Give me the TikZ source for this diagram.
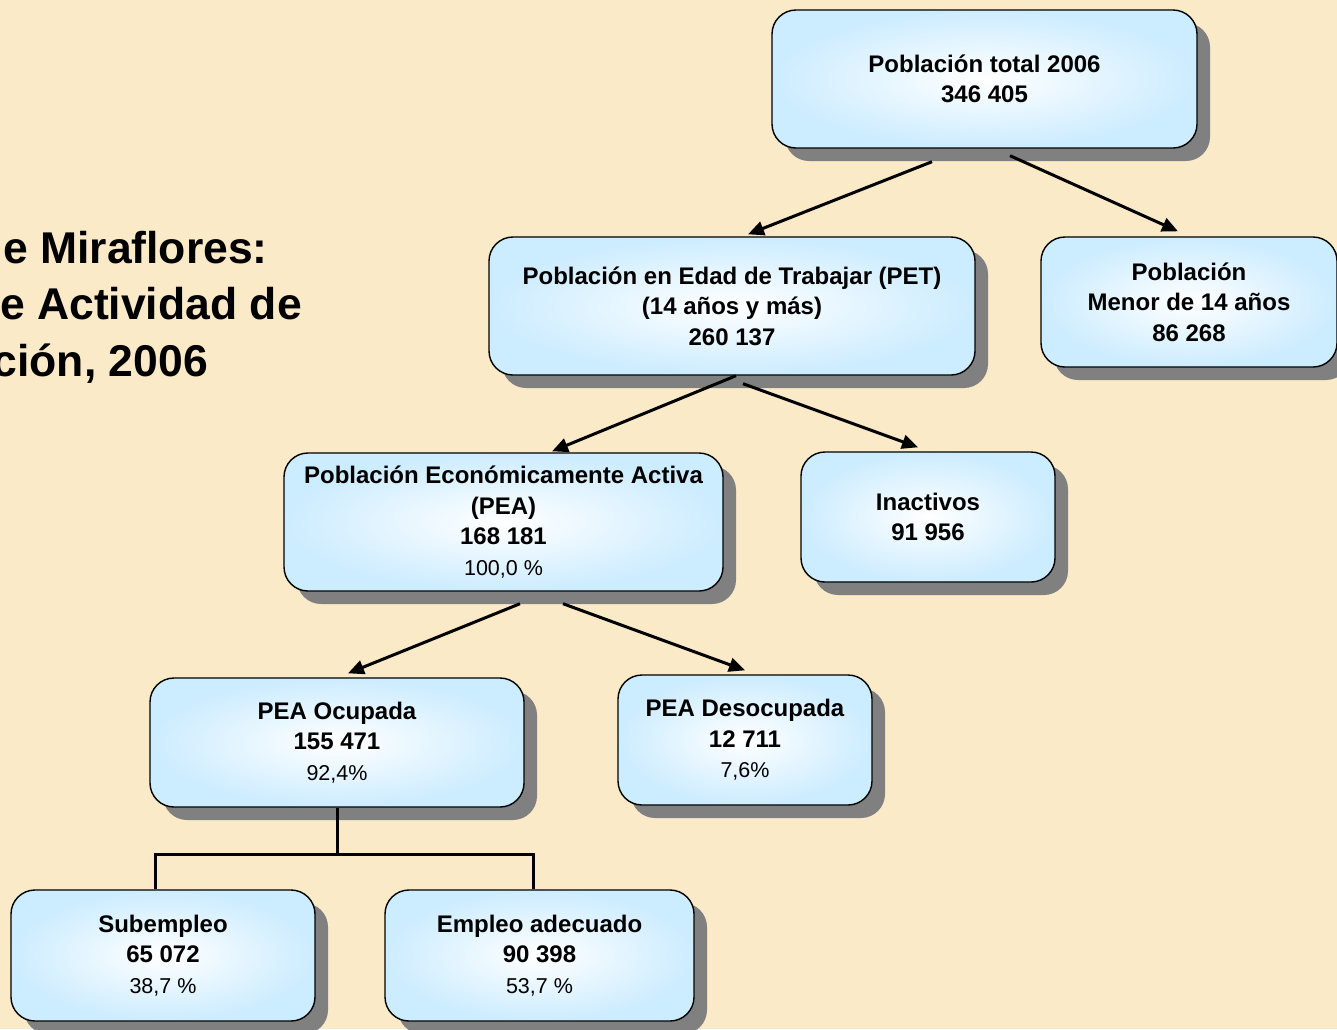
\documentclass[tikz,border=0pt]{standalone}
\usepackage{fontspec}
\setmainfont{Liberation Sans}
\usetikzlibrary{arrows.meta,shadows}
\definecolor{fondo}{RGB}{250,234,199}
\definecolor{celeste}{RGB}{204,236,255}
\newcommand{\pct}[1]{{\fontsize{21.5}{30.5}\selectfont\mdseries #1}}

\begin{document}
\begin{tikzpicture}[x=1pt,y=-1pt]
\tikzset{caja/.style={draw=black,line width=1.4pt,rounded corners=24pt,inner sep=0pt,inner color=white,outer color=celeste,align=center,font=\fontsize{24}{30.5}\selectfont\bfseries,drop shadow={shadow xshift=13pt,shadow yshift=-13pt,fill=black!50,opacity=1}}}
\tikzset{titulo/.style={anchor=base east,inner sep=0pt,font=\fontsize{44.5}{56}\selectfont\bfseries}}
\tikzset{flecha/.style={line width=3pt,-{Triangle[length=16pt,width=14pt]}}}
\tikzset{rama/.style={line width=3pt}}

\useasboundingbox (0,0) rectangle (1337,1029);
\clip (0,0) rectangle (1337,1029);
\fill[fondo] (0,0) rectangle (1337,1029);

\node[titulo] (tit1) at (268,263) {e Miraflores:};
\node[titulo] (tit2) at (302,319) {e Actividad de};
\node[titulo] (tit3) at (208,376) {ción, 2006};

\node[caja,minimum width=425pt,minimum height=138pt] (total) at (984.5,79) {Población total 2006\\346 405};
\node[caja,minimum width=486pt,minimum height=138pt] (pet) at (732,306) {Población en Edad de Trabajar (PET)\\(14 años y más)\\260 137};
\node[caja,minimum width=296pt,minimum height=130pt] (menor) at (1189,302) {Población\\Menor de 14 años\\86 268};
\node[caja,minimum width=439pt,minimum height=138pt] (pea) at (503.5,522) {Población Económicamente Activa\\(PEA)\\168 181\\\pct{100,0 \%}};
\node[caja,minimum width=254pt,minimum height=130pt] (inact) at (928,517) {Inactivos\\91 956};
\node[caja,minimum width=374pt,minimum height=129pt] (ocup) at (337,742.5) {PEA Ocupada\\155 471\\\pct{92,4\%}};
\node[caja,minimum width=254pt,minimum height=130pt] (desoc) at (745,740) {PEA Desocupada\\12 711\\\pct{7,6\%}};
\node[caja,minimum width=304pt,minimum height=131pt] (sub) at (163,955.5) {Subempleo\\65 072\\\pct{38,7 \%}};
\node[caja,minimum width=309pt,minimum height=131pt] (emp) at (539.5,955.5) {Empleo adecuado\\90 398\\\pct{53,7 \%}};

\draw[flecha] ([shift={(-52.5,13)}]total.south) -- ([shift={(16,-2)}]pet.north);
\draw[flecha] ([shift={(25.5,7)}]total.south) -- ([shift={(-11,-5)}]menor.north);
\draw[flecha] ([shift={(4,0)}]pet.south) -- ([shift={(48.5,-1)}]pea.north);
\draw[flecha] ([shift={(11,8)}]pet.south) -- ([shift={(-10,-4)}]inact.north);
\draw[flecha] ([shift={(16.5,12)}]pea.south) -- ([shift={(11,-4)}]ocup.north);
\draw[flecha] ([shift={(59.5,12)}]pea.south) -- ([shift={(0,-4)}]desoc.north);

\draw[rama] (ocup.south) -- ([shift={(0,47)}]ocup.south) coordinate (bifur);
\draw[rama] ([xshift=-8pt]sub.north) |- (bifur) -| ([xshift=-6.5pt]emp.north);
\end{tikzpicture}
\end{document}
